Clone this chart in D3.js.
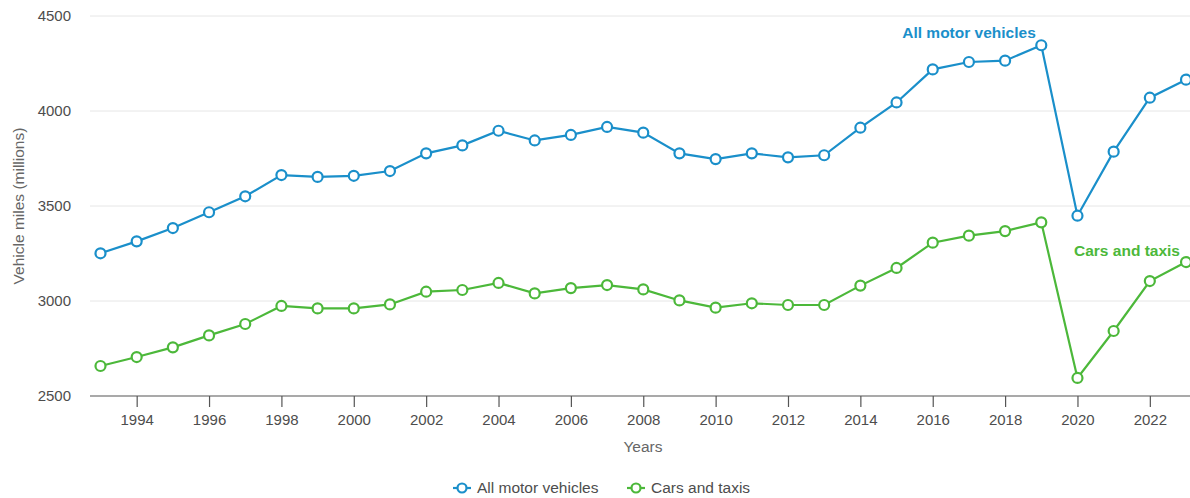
<!DOCTYPE html>
<html>
<head>
<meta charset="utf-8">
<script src="https://cdn.jsdelivr.net/npm/d3@7"></script>
<style>
  html, body { margin: 0; padding: 0; background: #fff; }
  svg { display: block; font-family: "Liberation Sans", Arial, sans-serif; }
</style>
</head>
<body>
<svg id="chart" width="1190" height="498"></svg>
<script>
const years = [1993,1994,1995,1996,1997,1998,1999,2000,2001,2002,2003,2004,2005,2006,2007,2008,2009,2010,2011,2012,2013,2014,2015,2016,2017,2018,2019,2020,2021,2022,2023];
const allMotorVehicles = [3251,3314,3384,3467,3551,3663,3653,3659,3684,3777,3819,3896,3845,3874,3916,3886,3777,3747,3777,3756,3767,3912,4045,4219,4258,4265,4346,3449,3786,4070,4165];
const carsAndTaxis = [2658,2705,2756,2819,2879,2974,2961,2961,2982,3049,3058,3095,3040,3068,3084,3061,3003,2965,2988,2979,2979,3081,3174,3307,3344,3368,3414,2595,2842,3105,3205];
const yTicks = [2500,3000,3500,4000,4500];
const xTicks = [1994,1996,1998,2000,2002,2004,2006,2008,2010,2012,2014,2016,2018,2020,2022];
const seriesNames = ["All motor vehicles","Cars and taxis"];
const colors = ["#1a8fca","#4cb83a"];

(function () {
const svg = d3.select("#chart");
const pLeft = 90, pRight = 1190, pTop = 16, pBottom = 396;

const x = d3.scaleLinear().domain([1992.71, 2023.11]).range([pLeft, pRight]);
const y = d3.scaleLinear().domain([2500, 4500]).range([pBottom, pTop]);

// gridlines
svg.append("g").selectAll("line").data(yTicks.filter(d => d !== 2500)).join("line")
  .attr("x1", pLeft).attr("x2", pRight)
  .attr("y1", d => y(d)).attr("y2", d => y(d))
  .attr("stroke", "#e6e6e6").attr("stroke-width", 1);

// y labels
svg.append("g").selectAll("text").data(yTicks).join("text")
  .attr("x", 71).attr("y", d => y(d)).attr("dy", "0.35em")
  .attr("text-anchor", "end").attr("font-size", 15).attr("fill", "#4d4d4d")
  .text(d => d);

// x axis
const xAxis = d3.axisBottom(x).tickValues(xTicks).tickFormat(d3.format("d")).tickSize(11).tickPadding(7);
const gx = svg.append("g").attr("transform", `translate(0,${pBottom})`).call(xAxis);
gx.select(".domain").attr("stroke", "#555").attr("stroke-width", 1.2).attr("d", `M${pLeft},0H${pRight}`);
gx.selectAll(".tick line").attr("stroke", "#555").attr("stroke-width", 1.2);
gx.selectAll(".tick text").attr("font-size", 15).attr("fill", "#4d4d4d")
  .attr("font-family", "Liberation Sans, Arial, sans-serif");

// axis titles
svg.append("text").attr("x", 643).attr("y", 452).attr("text-anchor", "middle")
  .attr("font-size", 15.5).attr("fill", "#666").text("Years");
svg.append("text").attr("transform", `translate(24,${(pTop + pBottom) / 2}) rotate(-90)`)
  .attr("text-anchor", "middle").attr("font-size", 15.5).attr("fill", "#666")
  .text("Vehicle miles (millions)");

const data = [allMotorVehicles, carsAndTaxis];
const line = d3.line().x((d, i) => x(years[i])).y(d => y(d));

data.forEach((vals, s) => {
  const g = svg.append("g");
  g.append("path").datum(vals).attr("d", line)
    .attr("fill", "none").attr("stroke", colors[s]).attr("stroke-width", 2.2);
  g.selectAll("circle").data(vals).join("circle")
    .attr("cx", (d, i) => x(years[i])).attr("cy", d => y(d)).attr("r", 5)
    .attr("fill", "#fff").attr("stroke", colors[s]).attr("stroke-width", 2.2);
});

// series labels
svg.append("text").attr("x", 969).attr("y", 38).attr("text-anchor", "middle")
  .attr("font-size", 15.5).attr("font-weight", "bold").attr("fill", colors[0]).text(seriesNames[0]);
svg.append("text").attr("x", 1127).attr("y", 256).attr("text-anchor", "middle")
  .attr("font-size", 15.5).attr("font-weight", "bold").attr("fill", colors[1]).text(seriesNames[1]);

// legend
const legendX = [453, 627];
seriesNames.forEach((name, s) => {
  const lx = legendX[s], ly = 488;
  const g = svg.append("g");
  g.append("line").attr("x1", lx).attr("x2", lx + 18).attr("y1", ly).attr("y2", ly)
    .attr("stroke", colors[s]).attr("stroke-width", 2.2);
  g.append("circle").attr("cx", lx + 9).attr("cy", ly).attr("r", 4.5)
    .attr("fill", "#fff").attr("stroke", colors[s]).attr("stroke-width", 2.2);
  g.append("text").attr("x", lx + 24).attr("y", ly).attr("dy", "0.35em")
    .attr("font-size", 15.5).attr("fill", "#4d4d4d").text(name);
});
})();
</script>
</body>
</html>
